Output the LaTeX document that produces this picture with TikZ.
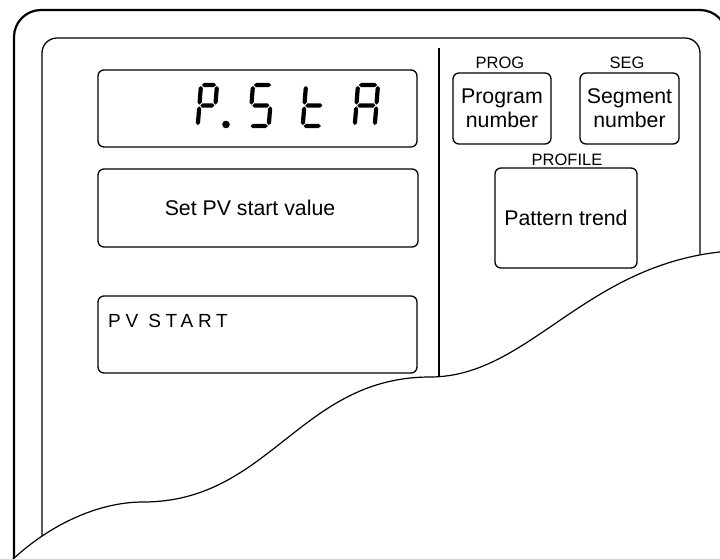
\documentclass[tikz,border=0pt]{standalone}
\usepackage{fontspec}
\setmainfont{Liberation Sans}
\newfontfamily\spacedfont[LetterSpace=25]{Liberation Sans}
\def\sgap{0.9}
\def\sgh{2.1}
\newcommand\hsg[3]{\fill (#1+\sgap,#3) -- (#1+\sgap+\sgh,#3-\sgh) -- (#2-\sgap-\sgh,#3-\sgh) -- (#2-\sgap,#3) -- (#2-\sgap-\sgh,#3+\sgh) -- (#1+\sgap+\sgh,#3+\sgh) -- cycle;}
\newcommand\vsg[3]{\fill (#1,#2+\sgap) -- (#1+\sgh,#2+\sgap+\sgh) -- (#1+\sgh,#3-\sgap-\sgh) -- (#1,#3-\sgap) -- (#1-\sgh,#3-\sgap-\sgh) -- (#1-\sgh,#2+\sgap+\sgh) -- cycle;}
\tikzset{
  outerframe/.style={line width=2.2pt},
  innerframe/.style={line width=1.3pt},
  box/.style={draw, line width=1.3pt, rounded corners=6pt, inner sep=0pt, rectangle},
  lbl/.style={font=\fontsize{16.5}{18}\selectfont, inner sep=0pt},
  txt/.style={font=\fontsize{21.3}{24}\selectfont, align=center, inner sep=0pt},
  digit/.style={xslant=0.08},
}
\begin{document}
\begin{tikzpicture}[x=1pt, y=-1pt]
\useasboundingbox (0,0) rectangle (720,558);
\clip (0,0) rectangle (720,558);
% frames
\draw[outerframe, rounded corners=27pt] (14,600) -- (14,10) -- (727,10) -- (727,600);
\draw[innerframe, rounded corners=15pt] (42,600) -- (42,38) -- (700,38) -- (700,600);
\draw[line width=2.2pt] (439,48) -- (439,420);
% torn edge
\fill[white] (10,562) .. controls (45,528) and (95,502) .. (143,502)
  .. controls (270,502) and (300,377) .. (430,377)
  .. controls (530,377) and (585,262) .. (730,251) -- (740,600) -- (0,600) -- cycle;
\draw[line width=1.2pt] (10,562) .. controls (45,528) and (95,502) .. (143,502)
  .. controls (270,502) and (300,377) .. (430,377)
  .. controls (530,377) and (585,262) .. (730,251);
% boxes
\node[box, minimum width=319pt, minimum height=77pt] (disp) at (257.5,108.5) {};
\node[box, minimum width=320pt, minimum height=78pt] (setbox) at (258,208) {};
\node[txt, anchor=base] (settxt) at (250,215.5) {Set PV start value};
\node[box, minimum width=319pt, minimum height=77pt] (pvbox) at (257.5,334.5) {};
\node[anchor=base west, inner sep=0pt, font=\spacedfont\fontsize{19}{20}\selectfont] (pvtxt) at (108,327) {PV START};
\node[box, txt, minimum width=98pt, minimum height=71pt] (prog) at (502,108.5) {Program\\number};
\node[box, txt, minimum width=99pt, minimum height=71pt] (seg) at (629.5,108.5) {Segment\\number};
\node[box, txt, minimum width=142pt, minimum height=100pt] (pat) at (566,218) {Pattern trend};
\node[lbl, anchor=base] (proglbl) at (500,68) {PROG};
\node[lbl, anchor=base] (seglbl) at (627,68) {SEG};
\node[lbl, anchor=base] (proflbl) at (567,165) {PROFILE};
% seven-segment display: P.StA
\begin{scope}[shift={(201,85)}, digit]
  \hsg{0}{16}{0} \vsg{16}{0}{20.5} \vsg{0}{0}{20.5} \hsg{0}{16}{20.5} \vsg{0}{20.5}{41}
\end{scope}
\fill (226,124.5) circle (3.8);
\begin{scope}[shift={(253,85)}, digit]
  \hsg{0}{19}{0} \vsg{0}{0}{20.5} \hsg{0}{19}{20.5} \vsg{19}{20.5}{41} \hsg{0}{19}{41}
\end{scope}
\begin{scope}[shift={(306,85)}, digit]
  \vsg{0}{0}{20.5} \vsg{0}{20.5}{41} \hsg{0}{19}{20.5} \hsg{0}{19}{41}
\end{scope}
\begin{scope}[shift={(358,85)}, digit]
  \hsg{0}{20}{0} \vsg{20}{0}{20.5} \vsg{20}{20.5}{41} \vsg{0}{20.5}{41} \vsg{0}{0}{20.5} \hsg{0}{20}{20.5}
\end{scope}
\end{tikzpicture}
\end{document}
